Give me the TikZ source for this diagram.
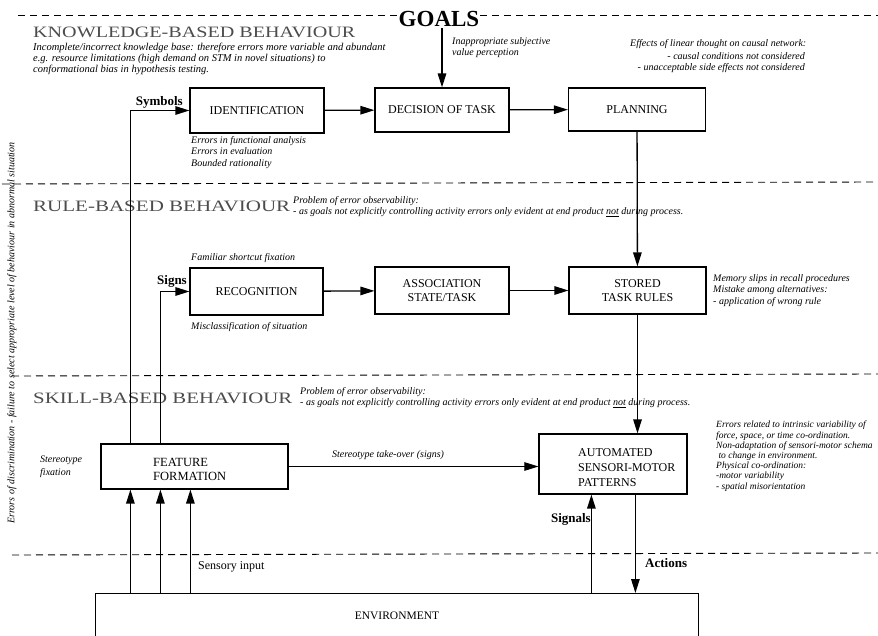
\documentclass[tikz,border=0pt]{standalone}
\usepackage{fontspec}
\setmainfont{Liberation Serif}
\usepackage{graphicx}
\usetikzlibrary{arrows.meta,calc}
\begin{document}
\begin{tikzpicture}[x=1pt,y=-1pt,
  box/.style={draw,line width=1.2pt,inner sep=0pt,align=center,font=\fontsize{12}{14}\selectfont},
  note/.style={inner sep=0pt,align=left,font=\fontsize{10}{11.5}\selectfont\itshape},
  lbl/.style={inner sep=0pt,font=\fontsize{13}{15}\selectfont\bfseries},
  ttl/.style={inner sep=0pt,anchor=west,text=black!70},
  sep/.style={line width=0.9pt,dash pattern=on 7pt off 5pt},
  conn/.style={line width=1.3pt,-{Triangle[length=14pt,width=8.5pt]}},
  thin/.style={line width=0.9pt,-{Triangle[length=14pt,width=8.5pt]}}]
\useasboundingbox (0,0) rectangle (878,636);
\clip (0,0) rectangle (878,636);

% separators
\node[inner sep=1pt,font=\fontsize{23}{25}\selectfont\bfseries] (goals) at (439,19) {GOALS};
\draw[sep] (18,15) -- (goals.west |- 0,15);
\draw[sep] (goals.east |- 0,15) -- (878,15);
\draw[sep] (2,184) -- (878,182);
\draw[sep] (12,376) -- (878,374);
\draw[sep] (12,555) -- (878,553);

% titles
\node[ttl] (kbt) at (33,32) {\resizebox{322pt}{10.5pt}{KNOWLEDGE-BASED BEHAVIOUR}};
\node[ttl] (rbt) at (33,206) {\resizebox{257pt}{10.5pt}{RULE-BASED BEHAVIOUR}};
\node[ttl] (sbt) at (33,398) {\resizebox{259pt}{10.5pt}{SKILL-BASED BEHAVIOUR}};

% notes
\node[note,anchor=north west,font=\fontsize{10.5}{11}\selectfont\itshape] (kbn) at (33,43) {Incomplete/incorrect knowledge base: therefore errors more variable and abundant\\e.g. resource limitations (high demand on STM in novel situations) to\\conformational bias in hypothesis testing.};
\node[note,anchor=north west] (ivp) at (452,37) {Inappropriate subjective\\value perception};
\node[note,anchor=west] (lin1) at (630,44) {Effects of linear thought on causal network:};
\node[note,anchor=east] (lin2) at (805,56) {- causal conditions not considered};
\node[note,anchor=east] (lin3) at (805,68) {- unacceptable side effects not considered};
\node[note,anchor=north west] (idn) at (191,136) {Errors in functional analysis\\Errors in evaluation\\Bounded rationality};
\node[note,anchor=north west] (rbn) at (293,196) {Problem of error observability:\\- as goals not explicitly controlling activity errors only evident at end product \underline{not} during process.};
\node[note,anchor=west] (fsf) at (191,258) {Familiar shortcut fixation};
\node[note,anchor=west] (mcs) at (191,327) {Misclassification of situation};
\node[note,anchor=north west] (msl) at (713,274) {Memory slips in recall procedures\\Mistake among alternatives:\\- application of wrong rule};
\node[note,anchor=north west] (sbn) at (300,387) {Problem of error observability:\\- as goals not explicitly controlling activity errors only evident at end product \underline{not} during process.};
\node[note,anchor=north west,font=\fontsize{10}{12.5}\selectfont\itshape] (stf) at (40,456) {Stereotype\\fixation};
\node[note,anchor=north west,font=\fontsize{9.5}{10.2}\selectfont\itshape] (asn) at (716,421) {Errors related to intrinsic variability of\\force, space, or time co-ordination.\\Non-adaptation of sensori-motor schema\\\ to change in environment.\\Physical co-ordination:\\-motor variability\\- spatial misorientation};
\node[note,anchor=west] (sto) at (332,455) {Stereotype take-over (signs)};
\node[note,rotate=90] (disc) at (12,333) {Errors of discrimination - failure to select appropriate level of behaviour in abnormal situation};

% boxes
\node[box,minimum width=134pt,minimum height=45pt] (ident) at (257,110.5) {IDENTIFICATION};
\node[box,minimum width=134pt,minimum height=44pt] (decision) at (442,110) {DECISION OF TASK};
\node[box,minimum width=137pt,minimum height=43pt] (planning) at (637,109.5) {PLANNING};
\node[box,minimum width=133pt,minimum height=47pt] (recog) at (256.5,291.5) {RECOGNITION};
\node[box,minimum width=134pt,minimum height=47pt] (assoc) at (442,290.5) {ASSOCIATION\\STATE/TASK};
\node[box,minimum width=137pt,minimum height=47pt] (stored) at (637.5,290.5) {STORED\\TASK RULES};
\node[box,minimum width=187pt,minimum height=45pt] (feature) at (194.5,466.5) {};
\node[inner sep=0pt,align=left,anchor=west,font=\fontsize{12.5}{14}\selectfont] (featt) at (153,469) {FEATURE\\FORMATION};
\node[box,minimum width=148pt,minimum height=60pt] (auto) at (613,464) {};
\node[inner sep=0pt,align=left,anchor=west,font=\fontsize{12}{15}\selectfont] (autot) at (578,468) {AUTOMATED\\SENSORI-MOTOR\\PATTERNS};
\node[draw,line width=1.2pt,inner sep=0pt,anchor=north west,minimum width=603pt,minimum height=70pt] (env) at (95,593) {};
\node[inner sep=0pt,font=\fontsize{11.5}{13}\selectfont] (envt) at (397,616) {ENVIRONMENT};

% labels
\node[lbl,anchor=east] (sym) at (183,102) {Symbols};
\node[lbl,anchor=east] (sig) at (187,281) {Signs};
\node[inner sep=0pt,anchor=west,font=\fontsize{12}{14}\selectfont] (sens) at (198,567) {Sensory input};
\node[lbl,anchor=east] (sgl) at (591,519) {Signals};
\node[lbl,anchor=west] (act) at (645,563) {Actions};

% helper coordinates
\path (feature.north west) ++(30,0) coordinate (ft1) ++(30,0) coordinate (ft2);
\path (feature.south west) ++(30,0) coordinate (fb1) ++(30,0) coordinate (fb2) ++(30,0) coordinate (fb3);
\path (auto.south west) ++(53,0) coordinate (sigx) ++(44,0) coordinate (actx);

% connectors
\draw[conn] (goals.south -| decision.north) -- (decision.north);
\draw[conn] (ident) -- (decision);
\draw[conn] (decision) -- (planning);
\draw[conn] (recog) -- (assoc);
\draw[conn] (assoc) -- (stored);
\draw[conn] (planning) -- (stored);
\draw[conn] (stored.south) -- (stored.south |- auto.north);
\draw[conn] (ft1) |- (ident.west);
\draw[conn] (ft2) |- (recog.west);
\draw[thin] (feature.east) -- (feature.east -| auto.west);
\draw[conn] (fb1 |- env.north) -- (fb1);
\draw[conn] (fb2 |- env.north) -- (fb2);
\draw[conn] (fb3 |- env.north) -- (fb3);
\draw[conn] (sigx |- env.north) -- (sigx);
\draw[conn] (actx) -- (actx |- env.north);
\end{tikzpicture}
\end{document}
